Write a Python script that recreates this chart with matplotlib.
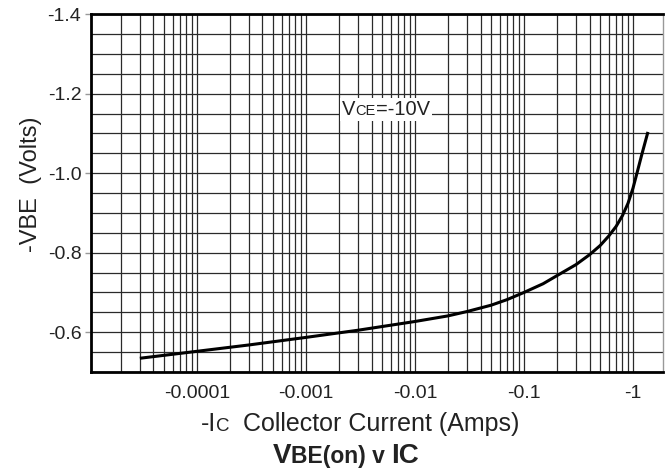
import numpy as np
import matplotlib.pyplot as plt
from matplotlib.ticker import FixedLocator, MultipleLocator, LogLocator, NullFormatter
from matplotlib.offsetbox import TextArea, HPacker, AnnotationBbox

plt.rcParams['font.family'] = ['Liberation Sans', 'DejaVu Sans']

# base-emitter on voltage vs collector current, VCE = -10V
ic = [-3.1e-5, -1e-4, -3e-4, -1e-3, -3e-3, -1e-2, -2e-2, -3e-2, -5e-2, -7e-2,
      -0.1, -0.15, -0.2, -0.3, -0.4, -0.5, -0.6, -0.7, -0.8, -0.9,
      -1.0, -1.1, -1.2, -1.36]
vbe = [-0.535, -0.552, -0.568, -0.587, -0.605, -0.627, -0.641, -0.652, -0.668, -0.682,
       -0.700, -0.722, -0.742, -0.770, -0.795, -0.818, -0.842, -0.866, -0.893, -0.924,
       -0.962, -1.005, -1.045, -1.100]

x_ticks = [1e-4, 1e-3, 1e-2, 1e-1, 1]
x_tick_labels = ['-0.0001', '-0.001', '-0.01', '-0.1', '-1']
y_ticks = [-0.6, -0.8, -1.0, -1.2, -1.4]
y_tick_labels = ['-0.6', '-0.8', '-1.0', '-1.2', '-1.4']


def mixed_text(parts, weight='normal'):
    boxes = [TextArea(s, textprops=dict(fontsize=fs, fontweight=weight, color='#222222'))
             for s, fs in parts]
    return HPacker(children=boxes, align='baseline', pad=0, sep=0)


fig = plt.figure(figsize=(6.72, 4.70), dpi=100)
ax = fig.add_axes([0.1354, 0.2085, 0.851, 0.7615])

ax.plot(-np.array(ic), vbe, color='black', lw=2.2, solid_joinstyle='round', zorder=3)

ax.set_xscale('log')
ax.set_xlim(1.07e-5, 1.88)
ax.set_ylim(-0.5, -1.4)

ax.xaxis.set_major_locator(FixedLocator(x_ticks))
ax.set_xticklabels(x_tick_labels)
ax.xaxis.set_minor_locator(LogLocator(base=10, subs=np.arange(2, 10)))
ax.xaxis.set_minor_formatter(NullFormatter())
ax.set_yticks(y_ticks)
ax.set_yticklabels(y_tick_labels)
ax.yaxis.set_minor_locator(MultipleLocator(0.05))

ax.grid(which='both', color='#2a2a2a', lw=0.9)
ax.tick_params(axis='x', which='both', length=0, pad=9, labelsize=14, labelcolor='#222222')
ax.tick_params(axis='y', which='major', length=4, width=1, color='#999999', pad=3,
               labelsize=14, labelcolor='#222222')
ax.tick_params(axis='y', which='minor', length=0)

for side in ['left', 'top', 'bottom']:
    ax.spines[side].set_linewidth(2)
    ax.spines[side].set_color('black')
ax.spines['right'].set_linewidth(1)
ax.spines['right'].set_color('#999999')

ax.set_ylabel('-VBE  (Volts)', fontsize=17, color='#222222')
ax.yaxis.set_label_coords(-0.086, 0.525)

# curve label with a white box over the grid
vce = mixed_text([('V', 14.5), ('CE', 10.5), ('=-10V', 14.5)])
ax.add_artist(AnnotationBbox(vce, (5.4e-3, -1.16), xycoords='data', frameon=True,
                             box_alignment=(0.5, 0.5), pad=0.15,
                             bboxprops=dict(facecolor='white', edgecolor='none')))

xlab = mixed_text([('-I', 18), ('C', 13.5), ('  Collector Current (Amps)', 18)])
fig.add_artist(AnnotationBbox(xlab, (360 / 672, 1 - 424 / 470), xycoords='figure fraction',
                              frameon=False, box_alignment=(0.5, 0.5), pad=0))

title = mixed_text([('V', 20), ('BE(on) v ', 16.5), ('IC', 20)], weight='bold')
fig.add_artist(AnnotationBbox(title, (346 / 672, 1 - 456 / 470), xycoords='figure fraction',
                              frameon=False, box_alignment=(0.5, 0.5), pad=0))

fig.savefig('out.png', dpi=100)
